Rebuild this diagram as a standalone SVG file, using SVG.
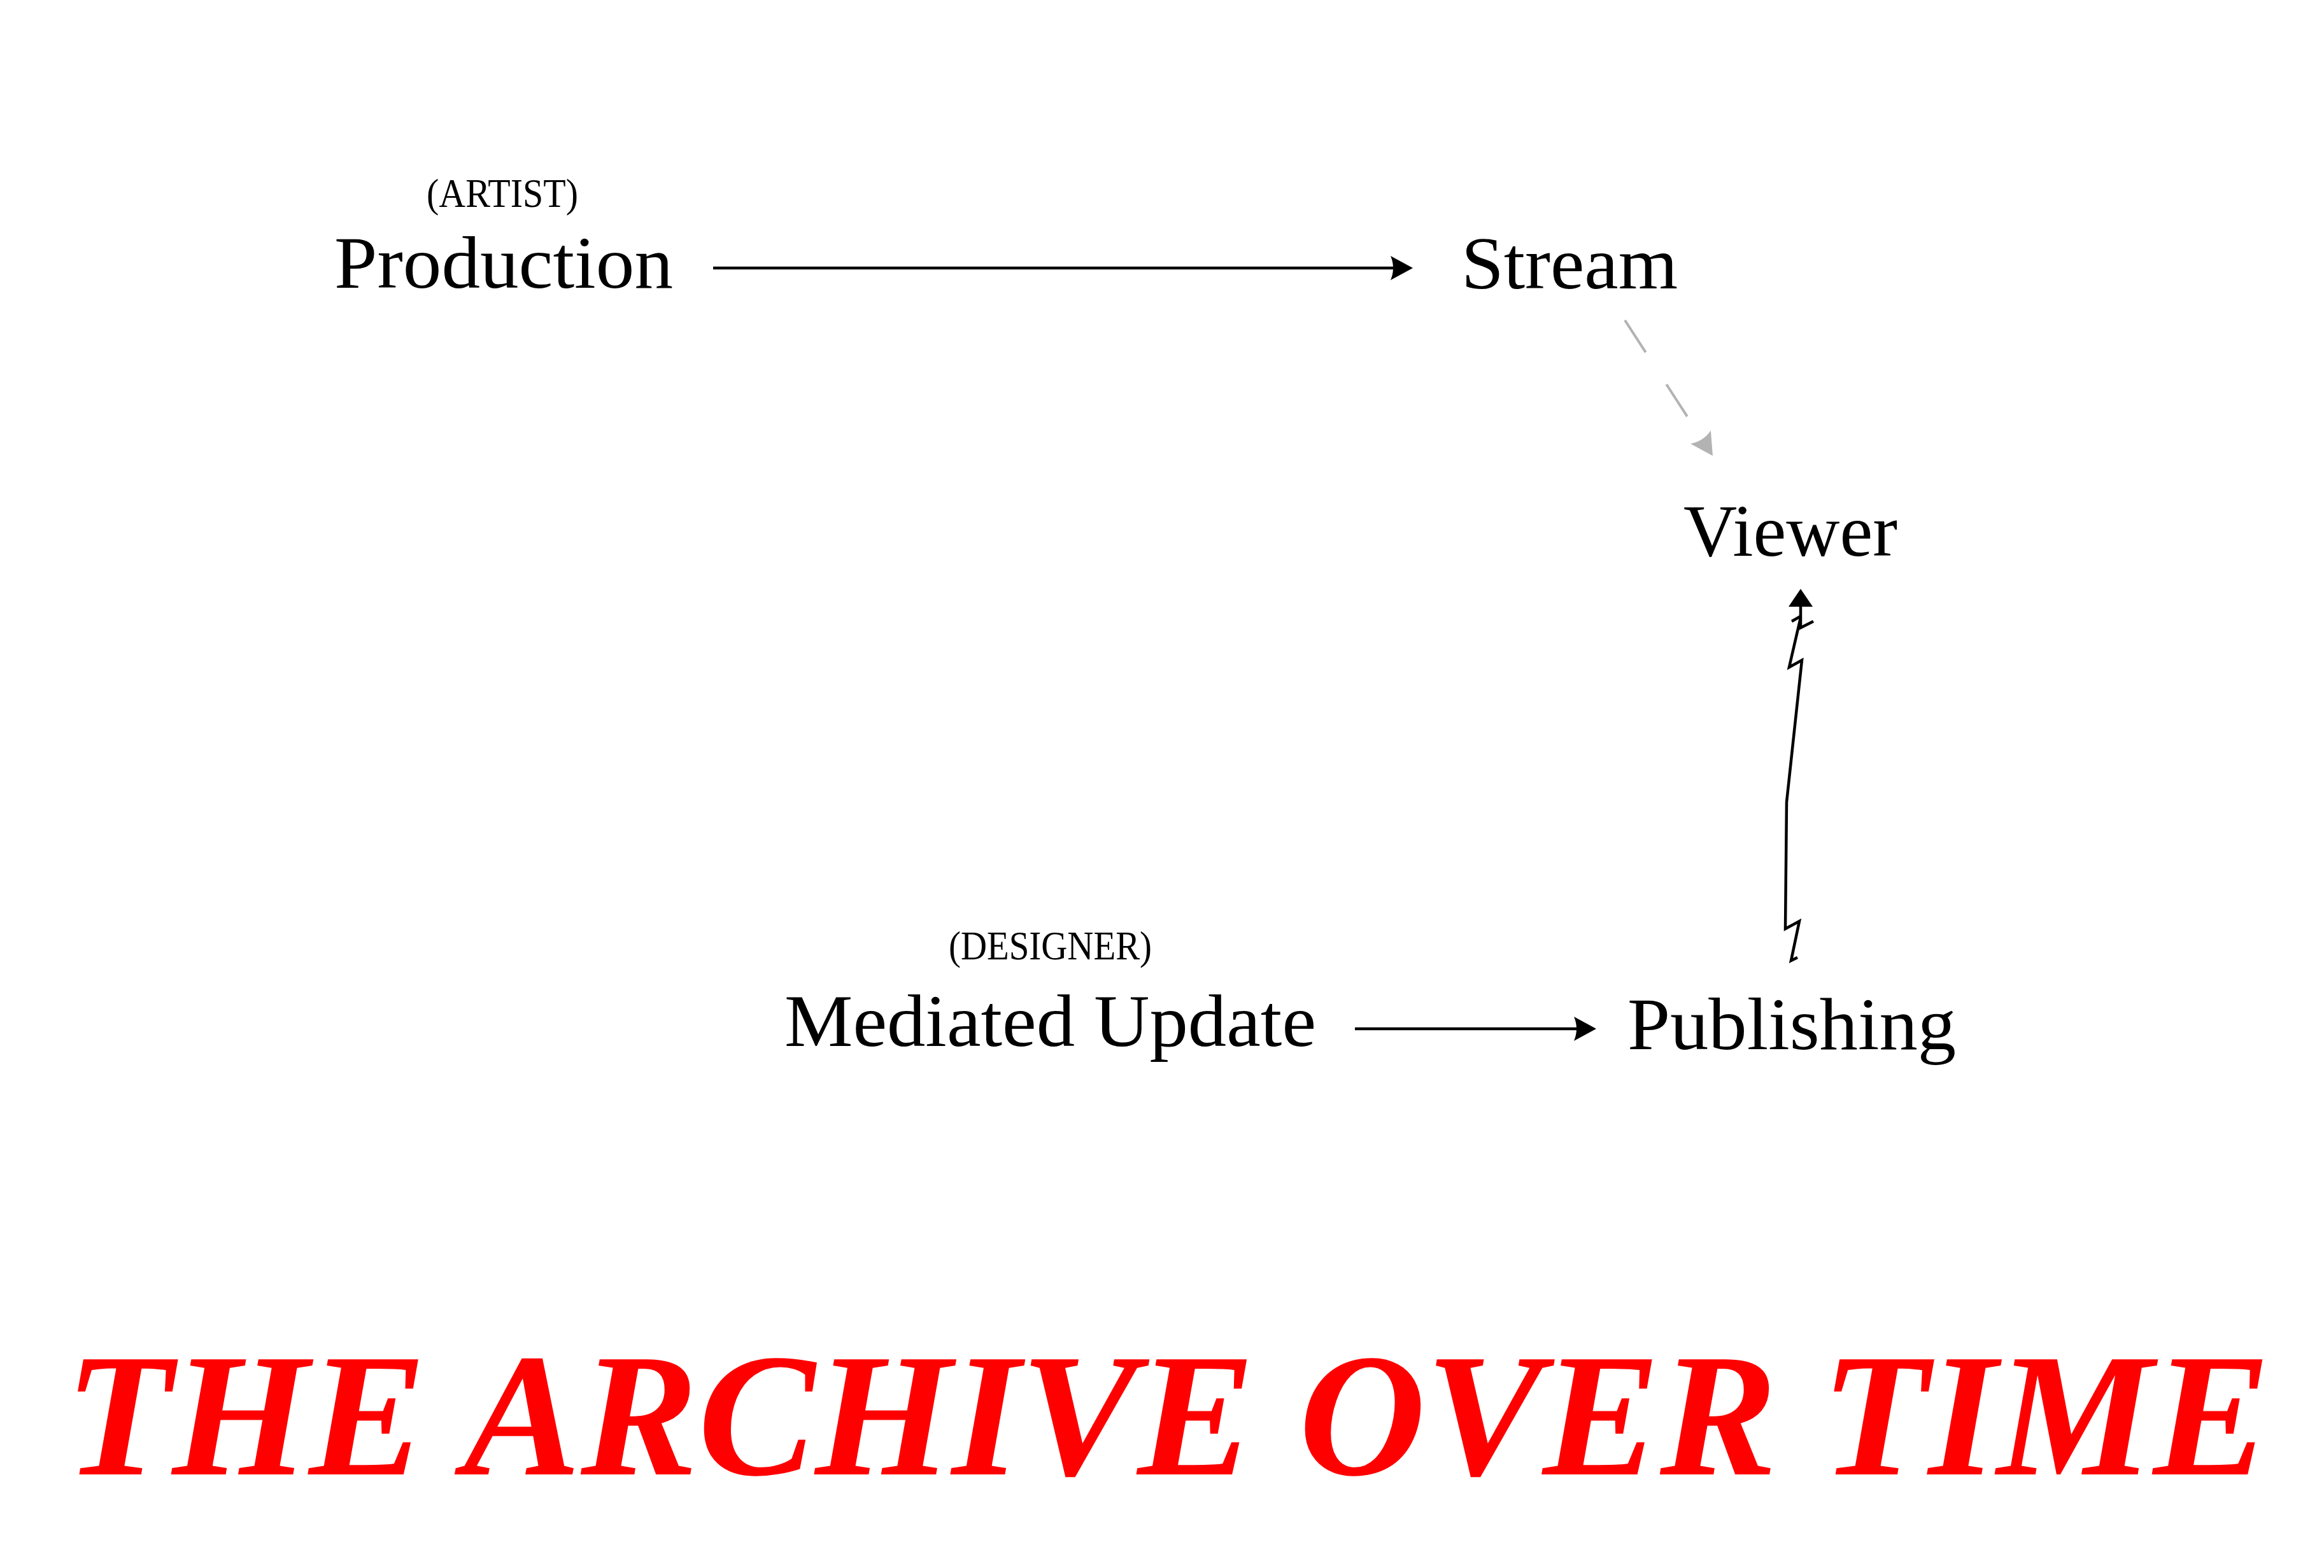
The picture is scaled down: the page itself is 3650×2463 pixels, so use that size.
<svg xmlns="http://www.w3.org/2000/svg" width="3650" height="2463" viewBox="0 0 3650 2463">
<style>
.lbl{font-family:"Liberation Serif","Times New Roman",serif;fill:#000;}
.big{font-size:116px;}
.small{font-size:64px;}
.title{font-family:"Liberation Serif","Times New Roman",serif;font-weight:bold;font-style:italic;font-size:276px;fill:#ff0000;}
.edge{fill:none;stroke:#000;stroke-width:4.5;}
.dash{fill:none;stroke:#b3b3b3;stroke-width:4;stroke-dasharray:60 60;}
</style>
<defs>
<marker id="ah" markerUnits="userSpaceOnUse" markerWidth="40" markerHeight="44" refX="6" refY="22" orient="auto" overflow="visible">
<path d="M35,22 L0,3 Q8,22 0,41 Z" fill="#000"/>
</marker>
<marker id="ahg" markerUnits="userSpaceOnUse" markerWidth="40" markerHeight="44" refX="6" refY="22" orient="auto" overflow="visible">
<path d="M35,22 L0,3 Q8,22 0,41 Z" fill="#b3b3b3"/>
</marker>
</defs>
<rect width="3650" height="2463" fill="#fff"/>
<g id="connectors">
<line class="edge" x1="1120" y1="421" x2="2190" y2="421" marker-end="url(#ah)"/>
<line class="edge" x1="2128" y1="1616" x2="2478" y2="1616" marker-end="url(#ah)"/>
<line class="dash" x1="2552" y1="503" x2="2674.2" y2="691.7" marker-end="url(#ahg)"/>
<g id="publishing-viewer">
<polyline class="edge" stroke-linejoin="miter" points="2823,1504 2813,1509 2826,1447 2804,1459 2806,1260 2830,1037 2810,1048 2828,970"/>
<polyline class="edge" points="2814,976 2828,968"/>
<polyline class="edge" points="2828,953 2828,986 2848,976"/>
<path d="M2828,925 L2847,953 L2809,953 Z" fill="#000"/>
</g>
</g>
<g id="node-production">
<text class="lbl small" x="670" y="325" textLength="238" lengthAdjust="spacingAndGlyphs">(ARTIST)</text>
<text class="lbl big" x="525" y="452" textLength="532" lengthAdjust="spacingAndGlyphs">Production</text>
</g>
<g id="node-stream">
<text class="lbl big" x="2295" y="453" textLength="340" lengthAdjust="spacingAndGlyphs">Stream</text>
</g>
<g id="node-viewer">
<text class="lbl big" x="2644" y="873" textLength="336" lengthAdjust="spacingAndGlyphs">Viewer</text>
</g>
<g id="node-mediated">
<text class="lbl small" x="1490" y="1507" textLength="319" lengthAdjust="spacingAndGlyphs">(DESIGNER)</text>
<text class="lbl big" x="1232" y="1643" textLength="835" lengthAdjust="spacingAndGlyphs">Mediated Update</text>
</g>
<g id="node-publishing">
<text class="lbl big" x="2556" y="1648" textLength="516" lengthAdjust="spacingAndGlyphs">Publishing</text>
</g>
<g id="title">
<text class="title" x="102" y="2316">THE ARCHIVE OVER TIME</text>
</g>
</svg>
